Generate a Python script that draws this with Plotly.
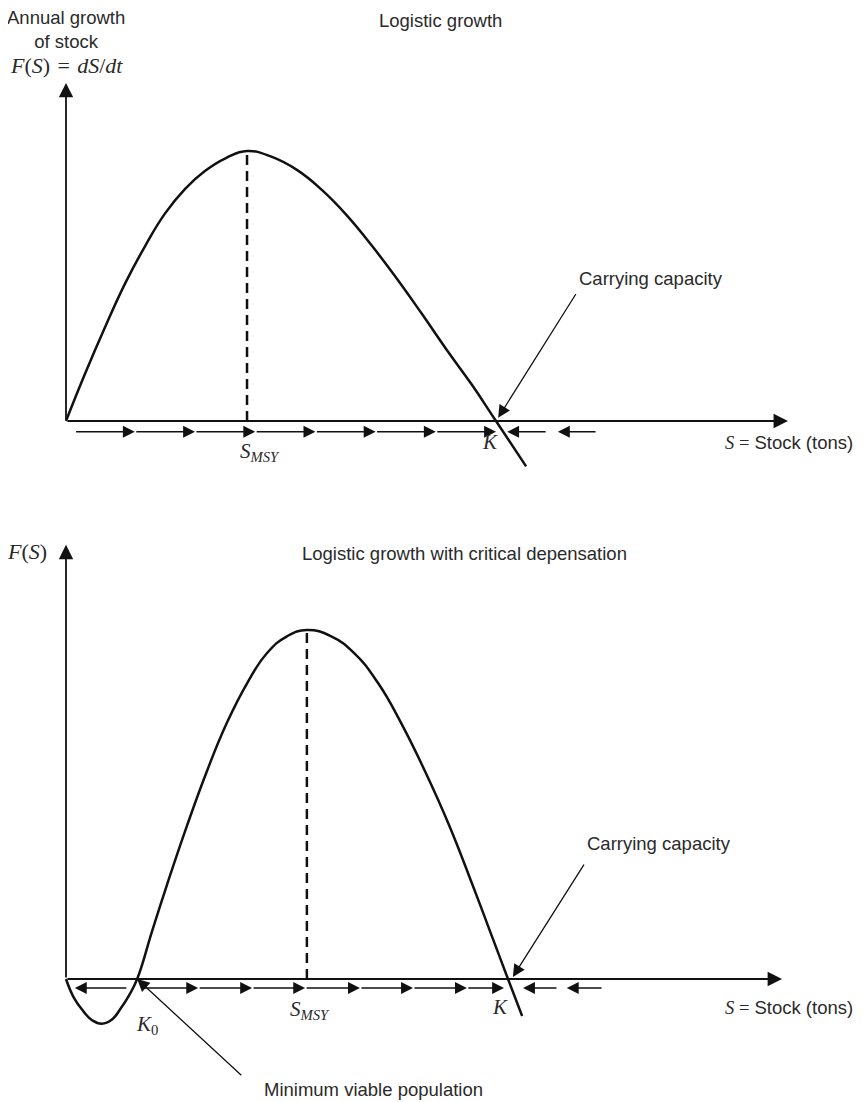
####################################################################################################################
# plot.py
#
# logistic growth vs. logistic growth with critical depensation (two stacked sketch panels)

####################################################################################################################
# IMPORTS
import plotly.graph_objects as go

####################################################################################################################
# DATA  (S in % of carrying capacity, F(S) in arbitrary growth units)

# top panel - logistic growth
s_top = [0, 4.4, 9.1, 13.7, 18.4, 23.0, 27.7, 32.3, 37.2, 42.1,
         47.9, 53.7, 59.5, 65.4, 71.2, 77.0, 82.8, 88.6, 94.4, 100, 107]
f_top = [0, 4.35, 8.7, 12.7, 16.2, 19.2, 21.5, 23.15, 24.35, 25.0,
         24.45, 23.25, 21.4, 19.0, 16.2, 13.15, 9.9, 6.55, 3.35, 0, -4.2]
k_top = 100
s_msy_top = 42.1
f_msy_top = 25.0

# bottom panel - logistic growth with critical depensation
s_bot = [0, 1.8, 3.9, 5.9, 8.1, 10.4, 12.4, 14.3, 16.1, 19.5, 22.9, 27.4, 31.9, 36.4, 41.0, 45.5, 50.0, 54.5,
         60.0, 65.2, 70.6, 75.8, 81.2, 86.7, 91.9, 95.9, 100, 103.2]
f_bot = [0, -1.35, -2.3, -2.95, -3.2, -2.9, -2.1, -1.15, 0, 3.45, 6.8, 11.0, 14.9, 18.35, 21.2, 23.35, 24.55, 25.0,
         24.55, 23.35, 21.2, 18.35, 14.9, 11.0, 6.8, 3.45, 0, -2.65]
k_bot = 100
k0_bot = 16.1
s_msy_bot = 54.5
f_msy_bot = 25.0

# direction-of-change arrows along the stock axis
flow_right_top = [2, 16, 30, 44, 58, 72, 86, 100]
flow_left_top = [(111.9, 102.6), (123.5, 114.4)]           # (tail, tip)
flow_right_bot = [16.7, 29.9, 42.1, 54.1, 66.5, 78.5, 90.7, 99.1]
flow_left_bot = [(14.0, 2.0), (111.3, 103.4), (121.5, 113.3)]

####################################################################################################################
# LAYOUT CONSTANTS
PAGE_W, PAGE_H = 863, 1102
BODY = 8                      # default page margin around the plotly div
W, H = PAGE_W - BODY, PAGE_H - BODY
SANS = "Liberation Sans, Arial, sans-serif"
SERIF = "Liberation Serif, Times New Roman, serif"
INK = "#111111"
TXT = "#2a2a2a"
FS = 18.5                     # sans text size
MS = 21                       # math text size

# axis ends / row offsets (data units of each panel)
x_end_top, y_end_top, row_top = 167.9, 31.3, -1.0
x_end_bot, y_end_bot, row_bot = 162.0, 31.1, -0.64

annotations = []


def arrow(x, y, ax, ay, xr, yr, width=1.5, size=1.5):
    annotations.append(dict(x=x, y=y, ax=ax, ay=ay, xref=xr, yref=yr, axref=xr, ayref=yr,
                            text="", showarrow=True, arrowhead=2, arrowsize=size,
                            arrowwidth=width, arrowcolor=INK, standoff=0, startstandoff=0))


def label(text, x, y, xr, yr, font=SANS, size=FS, xshift=0, yshift=0, xanchor="center", yanchor="middle"):
    annotations.append(dict(x=x, y=y, xref=xr, yref=yr, text=text, showarrow=False,
                            font=dict(family=font, size=size, color=TXT),
                            xshift=xshift, yshift=yshift, xanchor=xanchor, yanchor=yanchor))


####################################################################################################################
# FIGURE
fig = go.Figure()

# growth curves
fig.add_trace(go.Scatter(x=s_top, y=f_top, mode="lines", xaxis="x", yaxis="y",
                         line=dict(color=INK, width=2.5, shape="spline", smoothing=1.3)))
fig.add_trace(go.Scatter(x=s_bot, y=f_bot, mode="lines", xaxis="x2", yaxis="y2",
                         line=dict(color=INK, width=2.5, shape="spline", smoothing=1.3)))

# MSY dashed drops
fig.add_trace(go.Scatter(x=[s_msy_top, s_msy_top], y=[0, f_msy_top], mode="lines", xaxis="x", yaxis="y",
                         line=dict(color=INK, width=2.5, dash="10px,6px")))
fig.add_trace(go.Scatter(x=[s_msy_bot, s_msy_bot], y=[0, f_msy_bot], mode="lines", xaxis="x2", yaxis="y2",
                         line=dict(color=INK, width=2.5, dash="10px,6px")))

# axes with arrowheads
arrow(x_end_top, 0, 0, 0, "x", "y", 1.8, 1.6)
arrow(0, y_end_top, 0, 0, "x", "y", 1.8, 1.6)
arrow(x_end_bot, 0, 0, 0, "x2", "y2", 1.8, 1.6)
arrow(0, y_end_bot, 0, 0, "x2", "y2", 1.8, 1.6)

# flow arrows
for a, b in zip(flow_right_top[:-1], flow_right_top[1:]):
    arrow(b, row_top, a, row_top, "x", "y", 1.4, 1.7)
for tail, tip in flow_left_top:
    arrow(tip, row_top, tail, row_top, "x", "y", 1.4, 1.7)
for a, b in zip(flow_right_bot[:-1], flow_right_bot[1:]):
    arrow(b, row_bot, a, row_bot, "x2", "y2", 1.4, 1.7)
for tail, tip in flow_left_bot:
    arrow(tip, row_bot, tail, row_bot, "x2", "y2", 1.4, 1.7)

# pointer arrows
arrow(k_top + 0.5, 0.3, 118.8, 11.9, "x", "y", 1.3, 1.9)
arrow(k_bot + 1.1, 0.15, 117.4, 8.3, "x2", "y2", 1.3, 1.9)
arrow(k0_bot, 0, 40.0, -7.0, "x2", "y2", 1.3, 1.9)

# titles (page pixel centres converted to paper fractions)
label("Logistic growth", (440 - BODY) / W, 1 - (20 - BODY) / H, "paper", "paper")
label("Logistic growth with critical depensation", (464 - BODY) / W, 1 - (553 - BODY) / H, "paper", "paper")

# top panel texts
label("Annual growth<br>of stock", 0, y_end_top, "x", "y", yanchor="bottom", yshift=29)
label("<i>F</i>(<i>S</i>) &#8202;=&#8202; <i>dS</i>/<i>dt</i>", 0, y_end_top, "x", "y", font=SERIF, size=22,
      yanchor="bottom", yshift=3)
label("<i>S<sub>MSY</sub></i>", s_msy_top, 0, "x", "y", font=SERIF, size=MS, xshift=13, yshift=-31)
label("<i>K</i>", k_top, 0, "x", "y", font=SERIF, size=MS, xshift=-6, yshift=-21)
label("<span style='font-family:Liberation Serif'><i>S</i> =</span> Stock (tons)", x_end_top, 0, "x", "y",
      xanchor="right", xshift=67, yshift=-21)
label("Carrying capacity", 118.8, 11.9, "x", "y", xanchor="left", yshift=14)

# bottom panel texts
label("<i>F</i>(<i>S</i>)", 0, y_end_bot, "x2", "y2", font=SERIF, size=22, xshift=-39, yshift=-7)
label("<i>K</i><sub>0</sub>", k0_bot, 0, "x2", "y2", font=SERIF, size=MS, xshift=10, yshift=-46)
label("<i>S<sub>MSY</sub></i>", s_msy_bot, 0, "x2", "y2", font=SERIF, size=MS, xshift=3, yshift=-31)
label("<i>K</i>", k_bot, 0, "x2", "y2", font=SERIF, size=MS, xshift=-8, yshift=-28)
label("<span style='font-family:Liberation Serif'><i>S</i> =</span> Stock (tons)", x_end_bot, 0, "x2", "y2",
      xanchor="right", xshift=73, yshift=-28)
label("Carrying capacity", 117.4, 8.3, "x2", "y2", xanchor="left", yshift=20)
label("Minimum viable population", 40.0, -7.0, "x2", "y2", xanchor="left", xshift=19, yshift=-13)

# layout configuration - both panels overlay the full page, axes hidden
hidden = dict(visible=False, showgrid=False, zeroline=False, fixedrange=True)
fig.update_layout(
    width=W, height=H, margin=dict(l=0, r=0, t=0, b=0),
    paper_bgcolor="white", plot_bgcolor="white", showlegend=False,
    xaxis=dict(domain=[0, 1], range=[(BODY - 66) / 4.3, (PAGE_W - 66) / 4.3], **hidden),
    yaxis=dict(domain=[0, 1], range=[(421 - PAGE_H) / 10.8, (421 - BODY) / 10.8], **hidden),
    xaxis2=dict(domain=[0, 1], range=[(BODY - 66) / 4.42, (PAGE_W - 66) / 4.42], overlaying="x", anchor="y2",
                **hidden),
    yaxis2=dict(domain=[0, 1], range=[(979 - PAGE_H) / 13.96, (979 - BODY) / 13.96], overlaying="y", anchor="x2",
                **hidden),
    annotations=annotations,
)

fig.write_html("out.html")
